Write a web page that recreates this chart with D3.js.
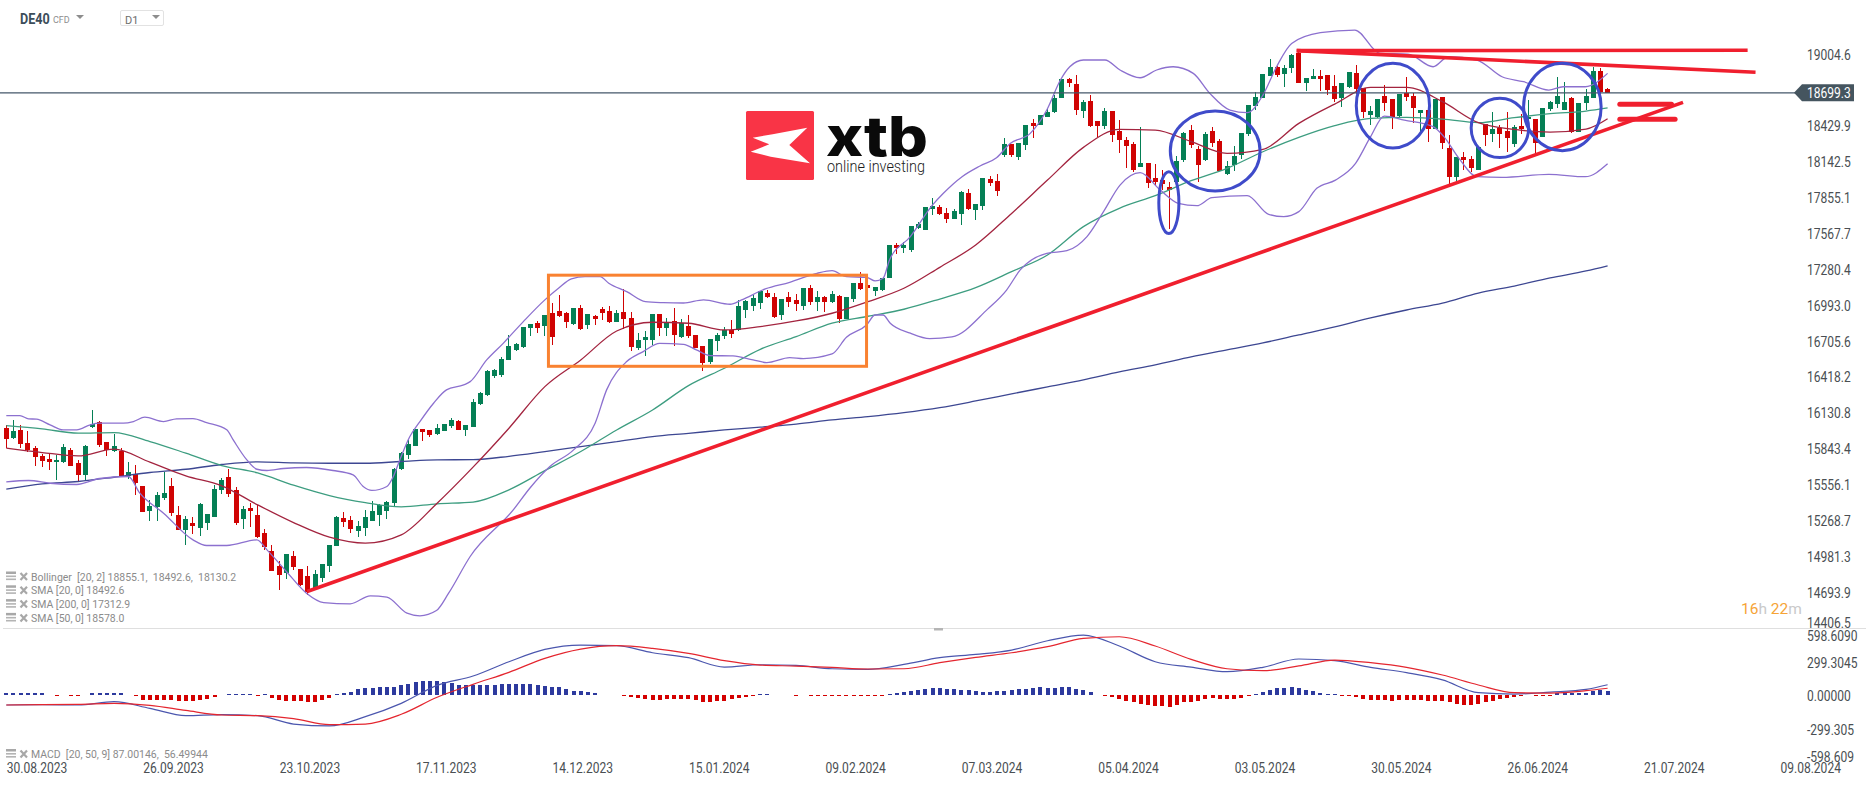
<!DOCTYPE html>
<html>
<head>
<meta charset="utf-8">
<title>DE40 D1</title>
<style>
html, body { margin: 0; background: #fff; overflow: hidden; }
svg { display: block; font-family: Roboto, sans-serif; }
</style>
<script src="https://cdn.jsdelivr.net/npm/d3@7"></script>
</head>
<body>
<svg id="chart" width="1866" height="787"></svg>
<script>
// daily candles
const opens = [
	16012,15932,15999,15895,15852,15791,15767,15738,15743,15839,
	15735,15639,16023,16063,15903,15826,15831,15626,15644,15551,
	15351,15383,15455,15551,15319,15199,15255,15215,15255,15303,
	15519,15623,15519,15287,15375,15319,15175,15031,14911,14855,
	14991,14887,14831,14735,14815,14911,15071,15295,15279,15191,
	15215,15271,15319,15351,15415,15687,15799,15871,16004,15999,
	15967,15991,16031,16071,15999,16024,16208,16280,16432,16440,
	16560,16640,16664,16816,16856,16832,16936,16952,16936,16848,
	16976,16840,16912,16968,16952,16864,16944,16896,16656,16720,
	16720,16928,16816,16872,16744,16832,16760,16672,16544,16712,
	16752,16800,16800,16960,16992,17016,17096,17064,16920,17064,
	17040,16992,17136,17024,17064,17024,17072,16888,17048,17176,
	17160,17112,17120,17216,17480,17456,17440,17616,17600,17770,
	17786,17738,17690,17730,17898,17762,17794,18010,17994,18202,
	18290,18186,18282,18458,18442,18506,18546,18658,18810,18770,
	18554,18634,18474,18434,18554,18394,18322,18290,18106,18138,
	18018,18002,17946,17986,18162,18402,18250,18162,18394,18314,
	18050,18122,18202,18370,18594,18658,18834,18906,18850,18898,
	19015,18778,18810,18834,18842,18754,18658,18746,18858,18738,
	18522,18506,18674,18650,18514,18701,18674,18538,18562,18410,
	18663,18255,18026,18186,18170,18082,18453,18373,18421,18394,
	18290,18434,18490,18487,18349,18567,18610,18562,18658,18386,
	18621,18658,18874,18730
];
const highs = [
	16039,16079,16039,15991,15866,15807,15807,15799,15887,15852,
	15759,15879,16159,16068,15903,15967,15852,15740,15719,15551,
	15434,15498,15658,15612,15391,15306,15298,15412,15327,15559,
	15612,15684,15540,15386,15412,15399,15207,15079,14951,15007,
	15031,14887,14911,14879,14927,15079,15311,15343,15311,15271,
	15359,15431,15407,15431,15695,15823,15919,16007,16007,15999,
	16047,16047,16095,16079,16039,16248,16304,16480,16488,16584,
	16760,16696,16824,16848,16872,16920,17016,17080,16944,16976,
	17000,16928,16920,16984,16992,16960,17128,16944,16776,16792,
	16928,16928,16896,16976,16888,16920,16760,16672,16728,16776,
	16824,16880,17040,17040,17080,17112,17120,17096,17048,17104,
	17088,17136,17160,17112,17072,17112,17080,17064,17176,17264,
	17160,17144,17216,17480,17496,17504,17632,17664,17784,17855,
	17802,17775,17770,17914,17930,17810,18018,18034,18050,18338,
	18290,18298,18442,18490,18522,18570,18682,18810,18818,18842,
	18642,18682,18474,18578,18554,18482,18346,18306,18426,18138,
	18130,18082,17986,18194,18386,18442,18274,18386,18426,18330,
	18154,18274,18378,18602,18706,18850,18970,18914,18922,19010,
	19042,18818,18890,18882,18842,18842,18778,18866,18922,18738,
	18594,18650,18762,18650,18690,18829,18695,18562,18567,18647,
	18663,18362,18183,18226,18189,18263,18453,18549,18442,18549,
	18442,18530,18642,18487,18578,18637,18829,18786,18663,18621,
	18727,18909,18895,18735
];
const lows = [
	15852,15924,15852,15818,15711,15698,15674,15594,15732,15706,
	15586,15599,16012,15858,15791,15818,15626,15604,15474,15343,
	15271,15271,15434,15311,15194,15074,15167,15151,15199,15303,
	15487,15460,15239,15207,15223,15135,15039,14871,14719,14807,
	14879,14746,14679,14735,14778,14863,15071,15223,15175,15143,
	15151,15271,15231,15287,15391,15679,15767,15871,15911,15943,
	15959,15991,16015,15999,15951,16024,16200,16272,16416,16424,
	16560,16632,16656,16752,16776,16752,16680,16904,16816,16840,
	16800,16808,16840,16880,16856,16864,16808,16632,16640,16592,
	16680,16752,16752,16672,16736,16736,16656,16472,16528,16632,
	16728,16736,16792,16896,16952,16968,17056,16896,16880,16984,
	16952,16960,17000,16952,16944,17016,16856,16888,17024,17120,
	17136,17072,17112,17216,17408,17416,17424,17608,17600,17722,
	17722,17658,17690,17642,17762,17682,17762,17954,17874,18186,
	18186,18162,18242,18338,18442,18506,18538,18658,18746,18522,
	18498,18426,18346,18410,18306,18218,18098,18066,18106,17938,
	17954,17922,17610,17986,18146,18258,17986,18154,18266,18074,
	18042,18074,18170,18354,18562,18658,18834,18826,18746,18858,
	18778,18714,18810,18714,18682,18626,18586,18738,18690,18498,
	18442,18498,18554,18410,18509,18637,18455,18389,18309,18410,
	18253,17970,17989,18082,18066,18082,18274,18306,18261,18226,
	18266,18370,18478,18215,18349,18557,18581,18562,18375,18386,
	18562,18658,18690,18706
];
const closes = [
	15927,15991,15887,15839,15778,15751,15743,15759,15863,15711,
	15639,15871,16047,15879,15839,15871,15631,15663,15570,15343,
	15391,15479,15495,15335,15199,15287,15231,15407,15327,15527,
	15599,15487,15255,15367,15351,15143,15058,14871,14839,15007,
	14903,14759,14703,14847,14927,15079,15303,15263,15207,15231,
	15303,15351,15399,15423,15687,15815,15887,16007,15983,15959,
	16015,16047,16079,15999,16039,16224,16296,16472,16480,16568,
	16672,16688,16824,16848,16816,16920,16744,16912,16864,16976,
	16808,16928,16888,16936,16864,16936,16888,16664,16720,16744,
	16928,16816,16864,16760,16856,16752,16656,16536,16728,16760,
	16800,16768,16992,17032,17056,17112,17064,16904,17048,17024,
	17008,17136,17024,17064,17024,17088,16888,17064,17176,17128,
	17136,17144,17216,17480,17459,17480,17632,17648,17784,17794,
	17730,17690,17754,17906,17770,17810,18018,17978,17914,18290,
	18202,18298,18442,18434,18522,18546,18658,18810,18778,18562,
	18626,18434,18434,18554,18362,18322,18274,18082,18138,17978,
	17986,17970,17922,18154,18378,18282,18122,18370,18298,18074,
	18114,18194,18378,18602,18666,18850,18906,18842,18898,19002,
	18778,18818,18834,18810,18722,18650,18778,18866,18730,18546,
	18554,18650,18618,18506,18690,18666,18578,18562,18410,18647,
	18301,18021,18183,18162,18093,18263,18359,18410,18370,18338,
	18426,18407,18509,18295,18578,18626,18674,18626,18386,18621,
	18674,18874,18706,18699
];

// the bands wiggle more than the averages, so they have their own readings
const bollUpperBars = [0,1.9,3.1,4.2,6.1,7.9,9.8,11.7,13,16.3,17.7,19.3,21.9,23.7,26,27.9,30.7,31.6,33.5,34.9,36.3,38.6,41.8,45.5,48.3,49.7,50.9,53,53.9,54.8,56.2,57.6,59.5,61.3,63.7,64.6,66.9,69.2,72,75,76.9,78.7,80.6,82.7,83.9,86.4,89,91.5,94.3,97.1,100.8,102.4,105.7,109.1,112.9,115,117,119.8,121,122.1,123,125.9,129,130.5,133.1,135.6,137.9,139.8,142.6,144.9,146.8,148.1,150,153,155.1,157.9,160.2,162.5,165.3,167.6,170.4,172.8,175,176.9,179,183,187.8,191.3,195.2,198.7,200.8,204.8,208.3,211.3,214.8,216.8,219.9,223];
const bollUpper = [16113,16113,16087,16084,16039,15999,15999,16039,16052,16052,16065,16100,16065,16087,16089,16057,15999,15918,15758,15683,15673,15689,15697,15673,15638,15545,15513,15545,15625,15758,15945,16065,16212,16319,16359,16385,16559,16692,16866,17040,17133,17208,17226,17226,17173,17106,17026,17018,17015,17040,17005,17040,17128,17181,17253,17274,17226,17221,17192,17213,17360,17547,17801,17894,18027,18113,18179,18294,18374,18561,18802,18908,18962,18962,18882,18820,18882,18908,18855,18695,18561,18540,18681,18908,19095,19181,19202,19015,19010,18908,18988,18962,18828,18788,18721,18748,18748,18855];
const bollLowerBars = [0,3.1,6.1,9.8,13,17,18.6,21.9,26,27.9,30.7,34.9,36.3,39,41.8,44.2,47.9,50.7,53,55.8,57.6,59.9,61.6,64.6,70.6,72.9,75.7,79,82,83.6,86.4,88.7,91,94.3,96.1,98,101.2,104,105.9,109.1,111,115,117,119.8,121,122.1,123.1,125.9,128.6,131.7,136.7,139.3,141.2,144.9,147.7,150.5,152.8,155.1,157.9,160.7,163.2,165.8,167.9,172.8,175.8,177.9,180,182.5,185.1,187.9,190,191.9,194.7,198.7,200.2,202.3,204.8,208.3,214.8,219.9,223];
const bollLower = [15582,15593,15571,15561,15609,15625,15491,15331,15117,15072,15072,15117,15037,14864,14690,14615,14605,14669,14658,14530,14509,14551,14690,14984,15357,15531,15705,15838,16052,16319,16546,16626,16692,16684,16639,16594,16591,16559,16538,16578,16570,16607,16740,16839,16919,16919,16853,16773,16730,16743,16968,17119,17280,17413,17434,17547,17747,17960,18059,17920,17814,17795,17859,17875,17725,17707,17747,17934,18000,18134,18348,18513,18481,18428,18348,18174,18027,18022,18046,18027,18130];

// averages and macd lines are read every 5 bars
const lineBars = [0,5,10,15,20,25,30,35,40,45,50,55,60,65,70,75,80,85,90,95,100,105,110,115,120,125,130,135,140,145,150,155,160,165,170,175,180,185,190,195,200,205,210,215,220,223];
const sma20 = [15852,15817,15790,15844,15740,15630,15550,15398,15256,15139,15091,15157,15411,15700,16012,16345,16559,16791,16861,16853,16799,16826,16871,16933,17026,17133,17301,17480,17733,18000,18262,18406,18401,18308,18214,18246,18454,18609,18743,18743,18628,18460,18406,18385,18409,18492];
const sma50 = [16033,16007,15972,15977,15905,15812,15713,15654,15555,15472,15416,15382,15406,15420,15518,15672,15825,15998,16158,16353,16492,16644,16746,16853,16909,16965,17047,17138,17266,17400,17627,17774,17875,17995,18094,18227,18342,18436,18494,18502,18489,18460,18500,18532,18553,18578];
const sma200 = [15523,15566,15585,15619,15657,15683,15721,15742,15734,15731,15731,15745,15758,15760,15787,15825,15865,15905,15945,15971,15998,16020,16044,16078,16105,16137,16177,16230,16287,16343,16399,16463,16519,16583,16639,16695,16759,16823,16895,16959,17015,17095,17151,17216,17272,17313];

const macdLine = [-94,-91,-94,-64,-124,-189,-180,-189,-264,-281,-198,-79,82,165,293,403,442,436,373,329,245,266,260,230,225,269,329,358,397,480,531,433,293,245,204,243,317,302,243,195,130,16,4,22,46,87];
const macdSignal = [-94,-91,-88,-79,-97,-142,-183,-189,-216,-270,-264,-177,-25,91,198,323,406,436,412,367,302,263,254,242,228,230,284,332,373,427,501,516,433,314,230,213,255,308,284,243,174,85,16,13,34,56];
const macdHist = [
	9,9,9,9,9,9,0,-6,0,-6,
	-6,0,9,9,9,9,9,0,-6,-45,
	-45,-45,-45,-45,-56,-58,-58,-45,-36,-22,
	0,6,6,6,6,-6,6,-27,-49,-54,
	-54,-54,-67,-63,-45,-27,6,9,22,45,
	54,58,67,67,71,89,98,116,125,125,
	125,116,107,89,89,89,89,89,89,98,
	98,98,98,98,89,80,71,63,45,31,
	27,18,13,0,0,0,-6,-18,-31,-40,
	-45,-45,-36,-40,-40,-40,-45,-63,-63,-54,
	-54,-40,-31,-18,-9,4,4,0,0,0,
	-6,0,-6,-6,-6,-6,-13,-13,-13,-6,
	-6,-6,-4,4,11,18,27,36,49,58,
	54,45,45,40,36,27,22,22,27,27,
	36,45,49,54,63,54,58,63,63,45,
	36,22,0,-13,-18,-36,-58,-71,-89,-98,
	-103,-107,-112,-98,-71,-63,-54,-36,-27,-36,
	-36,-40,-27,-6,4,22,36,54,58,63,
	54,40,27,13,4,3,-4,-4,-18,-36,
	-45,-45,-45,-54,-45,-45,-45,-45,-54,-54,
	-54,-71,-89,-98,-98,-89,-71,-54,-36,-27,
	-18,-4,0,-4,-6,-9,13,13,13,13,
	13,27,36,27
];

const priceTicks = [19004.6,18429.9,18142.5,17855.1,17567.7,17280.4,16993.0,16705.6,16418.2,16130.8,15843.4,15556.1,15268.7,14981.3,14693.9,14406.5];
const macdTicks = [598.609,299.3045,0,-299.305,-598.609];
const macdTickLabels = ['598.6090','299.3045','0.00000','-299.305','-598.609'];
const dateBars = [0,19,38,57,76,95,114,133,152,171,190,209,228,247];
const dateLabels = ['30.08.2023','26.09.2023','23.10.2023','17.11.2023','14.12.2023','15.01.2024','09.02.2024','07.03.2024','05.04.2024','03.05.2024','30.05.2024','26.06.2024','21.07.2024','09.08.2024'];
const lastPrice = 18699.3;

const legendLines = ['Bollinger  [20, 2] 18855.1,  18492.6,  18130.2','SMA [20, 0] 18492.6','SMA [200, 0] 17312.9','SMA [50, 0] 18578.0'];

// hand drawn marks on the chart, in bars and prices: [bar, price, bar, price]
const trendLines = [
	[41.9,14703,233.5,18623],
	[179.7,19037,243.6,18864],
	[179.7,19037,242.5,19040]
];
const levelLines = [
	[224.7,18607,231.9,18607],
	[224.7,18487,232.4,18487]
];
const orangeBox = [75.5,17238,119.8,16508];
// [first bar, top price, last bar, bottom price]
const circles = [
	[160.5,18067,163.3,17571],
	[162.1,18554,174.6,17913],
	[188,18936,198.2,18257],
	[204,18655,212,18180],
	[211.3,18936,222.1,18236]
];

const GREEN = '#057f55';
const RED = '#d00303';
const TEXT = '#4a4f53';
const svg = d3.select('#chart');

const x = d3.scaleLinear().domain([0, 223]).range([6.3, 1607.6]);
const y = d3.scaleLinear().domain([19004.6, 14693.9]).range([54.7, 592.7]);
const yMacd = d3.scaleLinear().domain([598.609, 0]).range([627.5, 694.5]);

// roboto comes out a bit wider than in the screenshot
function squeeze(sel, k) {
	sel.each(function () {
		const w = this.getComputedTextLength();
		d3.select(this).attr('textLength', w * k).attr('lengthAdjust', 'spacingAndGlyphs');
	});
}

// candles
const candles = svg.append('g').attr('shape-rendering', 'crispEdges');
candles.selectAll('line')
	.data(d3.range(opens.length))
	.enter()
	.append('line')
	.attr('x1', (i) => x(i))
	.attr('x2', (i) => x(i))
	.attr('y1', (i) => y(highs[i]))
	.attr('y2', (i) => y(lows[i]))
	.attr('stroke', (i) => (closes[i] >= opens[i] ? GREEN : RED))
	.attr('stroke-width', 1);
candles.selectAll('rect')
	.data(d3.range(opens.length))
	.enter()
	.append('rect')
	.attr('x', (i) => x(i) - 2.5)
	.attr('y', (i) => y(Math.max(opens[i], closes[i])))
	.attr('width', 5)
	.attr('height', (i) => Math.max(1.5, Math.abs(y(opens[i]) - y(closes[i]))))
	.attr('fill', (i) => (closes[i] >= opens[i] ? GREEN : RED));

// indicator lines
function drawLine(bars, values, color) {
	const line = d3.line()
		.x((d, i) => x(bars[i]))
		.y((d) => y(d))
		.curve(d3.curveMonotoneX);
	svg.append('path')
		.attr('d', line(values))
		.attr('fill', 'none')
		.attr('stroke', color)
		.attr('stroke-width', 1.3);
}
drawLine(lineBars, sma200, '#3d4792');
drawLine(lineBars, sma50, '#3d9d80');
drawLine(lineBars, sma20, '#a3243f');
drawLine(bollUpperBars, bollUpper, '#8c70cf');
drawLine(bollLowerBars, bollLower, '#8c70cf');

// current price
svg.append('line')
	.attr('x1', 0).attr('x2', 1800)
	.attr('y1', y(lastPrice)).attr('y2', y(lastPrice))
	.attr('stroke', '#45576a')
	.attr('stroke-width', 1.2);

// analyst drawings
const RED_MARK = '#f01f2e';
trendLines.forEach((t) => {
	svg.append('line')
		.attr('x1', x(t[0])).attr('y1', y(t[1]))
		.attr('x2', x(t[2])).attr('y2', y(t[3]))
		.attr('stroke', RED_MARK)
		.attr('stroke-width', 3.6);
});
levelLines.forEach((t) => {
	svg.append('line')
		.attr('x1', x(t[0])).attr('y1', y(t[1]))
		.attr('x2', x(t[2])).attr('y2', y(t[3]))
		.attr('stroke', RED_MARK)
		.attr('stroke-width', 5)
		.attr('stroke-linecap', 'round');
});
svg.append('rect')
	.attr('x', x(orangeBox[0]))
	.attr('y', y(orangeBox[1]))
	.attr('width', x(orangeBox[2]) - x(orangeBox[0]))
	.attr('height', y(orangeBox[3]) - y(orangeBox[1]))
	.attr('fill', 'none')
	.attr('stroke', '#f98231')
	.attr('stroke-width', 3);
svg.selectAll('ellipse')
	.data(circles)
	.enter()
	.append('ellipse')
	.attr('cx', (c) => (x(c[0]) + x(c[2])) / 2)
	.attr('cy', (c) => (y(c[1]) + y(c[3])) / 2)
	.attr('rx', (c) => (x(c[2]) - x(c[0])) / 2)
	.attr('ry', (c) => (y(c[3]) - y(c[1])) / 2)
	.attr('fill', 'none')
	.attr('stroke', '#3f4bca')
	.attr('stroke-width', 3);

// price axis
const yAxis = d3.axisRight(y).tickValues(priceTicks).tickSize(0).tickPadding(0).tickFormat(d3.format('.1f'));
const yAxisG = svg.append('g').attr('transform', 'translate(1807, 0)').call(yAxis);
yAxisG.select('.domain').remove();
yAxisG.selectAll('text')
	.attr('fill', TEXT)
	.style('font-size', '14px')
	.style('font-family', 'Roboto, sans-serif')
	.attr('dy', (d) => (d == 14406.5 ? '-0.1em' : '0.32em'))
	.call(squeeze, 0.86);

// price tag
const tagY = y(lastPrice);
svg.append('path')
	.attr('d', d3.line()([[1794, tagY], [1802, tagY - 8.5], [1854, tagY - 8.5], [1854, tagY + 8.5], [1802, tagY + 8.5]]))
	.attr('fill', '#45555f');
svg.append('text')
	.attr('x', 1807)
	.attr('y', tagY + 5)
	.attr('fill', '#fff')
	.style('font-size', '14px')
	.text(d3.format('.1f')(lastPrice))
	.call(squeeze, 0.86);

// panel separator
svg.append('line')
	.attr('x1', 3).attr('x2', 1866)
	.attr('y1', 628.5).attr('y2', 628.5)
	.attr('stroke', '#dfdfdf')
	.attr('stroke-width', 1);
svg.append('rect')
	.attr('x', 934).attr('y', 628)
	.attr('width', 9).attr('height', 2.5)
	.attr('fill', '#b5b5b5');

// macd histogram
svg.append('g')
	.attr('shape-rendering', 'crispEdges')
	.selectAll('rect')
	.data(macdHist)
	.enter()
	.append('rect')
	.attr('x', (d, i) => x(i) - 2)
	.attr('y', (d) => (d > 0 ? yMacd(d) : yMacd(0)))
	.attr('width', 4)
	.attr('height', (d) => (d == 0 ? 0 : Math.max(1, Math.abs(yMacd(d) - yMacd(0)))))
	.attr('fill', (d) => (d > 0 ? '#2d3a9e' : '#d40000'));

// macd lines
const macdPath = d3.line()
	.x((d, i) => x(lineBars[i]))
	.y((d) => yMacd(d))
	.curve(d3.curveMonotoneX);
svg.append('path').attr('d', macdPath(macdLine)).attr('fill', 'none').attr('stroke', '#4b56ae').attr('stroke-width', 1.2);
svg.append('path').attr('d', macdPath(macdSignal)).attr('fill', 'none').attr('stroke', '#e4262f').attr('stroke-width', 1.2);

// macd axis
const macdAxis = d3.axisRight(yMacd).tickValues(macdTicks).tickSize(0).tickPadding(0).tickFormat((d, i) => macdTickLabels[i]);
const macdAxisG = svg.append('g').attr('transform', 'translate(1807, 0)').call(macdAxis);
macdAxisG.select('.domain').remove();
macdAxisG.selectAll('text')
	.attr('fill', TEXT)
	.style('font-size', '14px')
	.style('font-family', 'Roboto, sans-serif')
	.attr('dy', (d) => (d == 598.609 ? '0.95em' : d == -598.609 ? '0em' : '0.45em'))
	.call(squeeze, 0.86);

// date axis
const dateAxis = d3.axisBottom(x).tickValues(dateBars).tickSize(0).tickPadding(0).tickFormat((d, i) => dateLabels[i]);
const dateAxisG = svg.append('g').attr('transform', 'translate(0, 763.5)').call(dateAxis);
dateAxisG.select('.domain').remove();
dateAxisG.selectAll('text')
	.attr('fill', TEXT)
	.attr('text-anchor', 'start')
	.style('font-size', '14px')
	.style('font-family', 'Roboto, sans-serif')
	.call(squeeze, 0.86);

// indicator legend
function legendRow(label, rowY) {
	const g = svg.append('g').attr('transform', 'translate(0, ' + rowY + ')');
	g.append('rect').attr('x', 6).attr('y', -5).attr('width', 10).attr('height', 2.5).attr('fill', '#a8a8a8');
	[-1, 2].forEach((dy) => {
		g.append('rect').attr('x', 6).attr('y', dy).attr('width', 10).attr('height', 1.6).attr('fill', '#b4b4b4');
	});
	g.append('path').attr('d', 'M20.5 -3.5L27 3.5M27 -3.5L20.5 3.5').attr('stroke', '#a8a8a8').attr('stroke-width', 2.2).attr('fill', 'none');
	g.append('text')
		.attr('x', 31)
		.attr('y', 4)
		.attr('fill', '#8b8b8b')
		.style('white-space', 'pre')
		.style('font-size', '11.5px')
		.text(label)
		.call(squeeze, 0.91);
}
legendLines.forEach((t, i) => legendRow(t, 576.5 + i * 13.8));
legendRow('MACD  [20, 50, 9] 87.00146,  56.49944', 754);

// header
svg.append('text').attr('x', 20).attr('y', 24).attr('fill', '#3c4d5a').style('font-size', '14px').style('font-weight', 700).text('DE40').call(squeeze, 0.9);
svg.append('text').attr('x', 53).attr('y', 23).attr('fill', '#8d8d8d').style('font-size', '9px').text('CFD');
svg.append('path').attr('d', 'M76 15H84L80 19Z').attr('fill', '#8d8d8d');
svg.append('rect').attr('x', 120.5).attr('y', 10.5).attr('width', 43).attr('height', 15).attr('rx', 1.5).attr('fill', '#fff').attr('stroke', '#e2e2e2');
svg.append('text').attr('x', 125).attr('y', 24).attr('fill', '#6d6d6d').style('font-size', '11px').text('D1');
svg.append('path').attr('d', 'M152 15H160L156 19Z').attr('fill', '#8d8d8d');

// countdown
const countdown = svg.append('text').attr('x', 1741).attr('y', 614).style('font-size', '15.5px');
[['16', '#f6a436'], ['h ', '#c9c9c9'], ['22', '#f6a436'], ['m', '#c9c9c9']].forEach((p) => {
	countdown.append('tspan').attr('fill', p[1]).style('white-space', 'pre').text(p[0]);
});

// logo
const logo = svg.append('g').attr('transform', 'translate(746, 111)');
logo.append('rect').attr('width', 68).attr('height', 69).attr('rx', 1.5).attr('fill', '#f93446');
logo.append('path').attr('d', 'M61.3 16.7L26.7 23.3L6.7 26.7L23.3 33.3L4.7 40.7L24.7 45.7L64 52.3L43.3 34Z').attr('fill', '#fff');
svg.append('text')
	.attr('x', 826).attr('y', 156)
	.attr('fill', '#0a0a0a')
	.attr('textLength', 102)
	.attr('lengthAdjust', 'spacingAndGlyphs')
	.style('font-family', 'Inter, Roboto, sans-serif')
	.style('font-size', '55px')
	.style('font-weight', 800)
	.text('xtb');
svg.append('text')
	.attr('x', 827).attr('y', 172)
	.attr('fill', '#1c1c1c')
	.attr('textLength', 98)
	.attr('lengthAdjust', 'spacingAndGlyphs')
	.style('font-size', '17px')
	.style('font-weight', 300)
	.text('online investing');
</script>
</body>
</html>
